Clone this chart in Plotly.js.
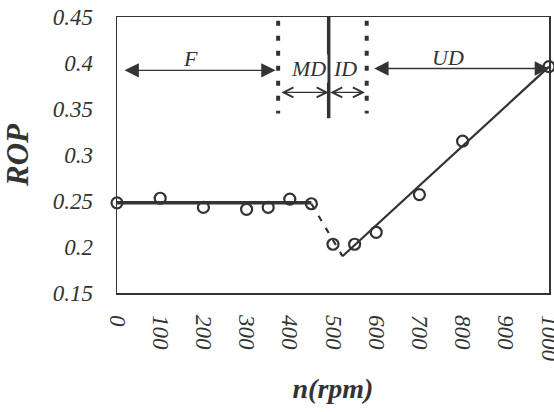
<!DOCTYPE html>
<html>
<head>
<meta charset="utf-8">
<script src="https://cdn.plot.ly/plotly-3.0.1.min.js"></script>
<style>html,body{margin:0;padding:0;background:#fff;}#chart{width:554px;height:412px;}</style>
</head>
<body>
<div id="chart"></div>
<script>
// measured points
const rpm = [0, 100, 200, 300, 350, 400, 450, 500, 550, 600, 700, 800, 1000];
const rop = [0.248, 0.253, 0.243, 0.241, 0.243, 0.252, 0.247, 0.203, 0.203, 0.216, 0.257, 0.315, 0.396];
// trend segments
const fLineX = [0, 450];
const fLineY = [0.248, 0.248];
const dropX = [450, 522];
const dropY = [0.247, 0.19];
const udLineX = [522, 1000];
const udLineY = [0.19, 0.396];
// zone boundaries (rpm)
const boundF = 373, boundMid = 490, boundU = 578;
const zoneTop = 0.45, dotBottom = 0.345, solidBottom = 0.34;
// axis ticks
const xTicks = [0, 100, 200, 300, 400, 500, 600, 700, 800, 900, 1000];
const yTicks = [0.15, 0.2, 0.25, 0.3, 0.35, 0.4, 0.45];
const yTickText = ['0.15', '0.2', '0.25', '0.3', '0.35', '0.4', '0.45'];

const ink = '#333333';
const serif = 'Liberation Serif, Times New Roman, serif';

const traces = [
  {x: fLineX, y: fLineY, mode: 'lines', line: {color: ink, width: 3.5}, hoverinfo: 'skip', cliponaxis: false},
  {x: dropX, y: dropY, mode: 'lines', line: {color: ink, width: 2.2, dash: '6px,8px'}, hoverinfo: 'skip', cliponaxis: false},
  {x: udLineX, y: udLineY, mode: 'lines', line: {color: ink, width: 2.2}, hoverinfo: 'skip', cliponaxis: false},
  {x: rpm, y: rop, mode: 'markers', cliponaxis: false,
   marker: {symbol: 'circle-open', size: 11, color: ink, line: {color: ink, width: 2.2}}}
];

const shapes = [
  {type: 'line', xref: 'x', yref: 'y', x0: boundF, x1: boundF, y0: zoneTop - 0.004, y1: dotBottom, line: {color: ink, width: 4, dash: '5px,10px'}},
  {type: 'line', xref: 'x', yref: 'y', x0: boundU, x1: boundU, y0: zoneTop - 0.004, y1: dotBottom, line: {color: ink, width: 4, dash: '5px,10px'}},
  {type: 'line', xref: 'x', yref: 'y', x0: boundMid, x1: boundMid, y0: zoneTop, y1: solidBottom, line: {color: ink, width: 3.5}}
];

const labFont = {family: serif, size: 22, color: ink, style: 'italic'};
function dblArrow(x0, x1, y, head, size, w) {
  return {xref: 'x', yref: 'y', axref: 'x', ayref: 'y', x: x1, y: y, ax: x0, ay: y,
    text: '', showarrow: true, arrowside: 'end+start', arrowhead: head, startarrowhead: head,
    arrowsize: size, startarrowsize: size, arrowwidth: w, arrowcolor: ink, standoff: 0, startstandoff: 0};
}
const annotations = [
  dblArrow(14, 367, 0.392, 2, 2.2, 1.3),
  dblArrow(592, 1000, 0.394, 2, 2.2, 1.3),
  dblArrow(boundF + 4, boundMid, 0.368, 5, 1.5, 1.3),
  dblArrow(boundMid, boundU - 4, 0.368, 5, 1.5, 1.3),
  {xref: 'x', yref: 'y', x: 169, y: 0.405, text: 'F', showarrow: false, font: labFont},
  {xref: 'x', yref: 'y', x: 766, y: 0.406, text: 'UD', showarrow: false, font: labFont},
  {xref: 'x', yref: 'y', x: 443, y: 0.394, text: 'MD', showarrow: false, font: labFont, bgcolor: '#fff'},
  {xref: 'x', yref: 'y', x: 527, y: 0.394, text: 'ID', showarrow: false, font: labFont}
];

const tickFont = {family: serif, size: 23, color: ink, style: 'italic'};
const clear = 'rgba(0,0,0,0)';
function tickOnly(base, dir, len, side) {
  return Object.assign({}, base, {showticklabels: false, ticks: dir, ticklen: len, tickwidth: 1.3, tickcolor: ink,
    showline: false, showgrid: false, zeroline: false, side: side});
}
const layout = {
  width: 554, height: 412,
  margin: {l: 117, r: 5, t: 17, b: 119},
  paper_bgcolor: '#fff', plot_bgcolor: '#fff',
  showlegend: false,
  xaxis: {range: [0, 1000], tickvals: xTicks, ticktext: xTicks.map(String), tickangle: 90,
    ticks: 'outside', ticklen: 16, tickwidth: 1, tickcolor: clear,
    showline: true, linecolor: ink, linewidth: 1.5, mirror: true, showgrid: false, zeroline: false,
    tickfont: tickFont, ticklabeloverflow: 'allow',
    title: {text: '<b>n(rpm)</b>', font: {family: serif, size: 28, color: ink, style: 'italic'}, standoff: 18}},
  xaxis2: tickOnly({range: [0, 1000], overlaying: 'x', matches: 'x', tickvals: xTicks}, 'inside', 7, 'bottom'),
  xaxis3: tickOnly({range: [0, 1000], overlaying: 'x', matches: 'x', tickvals: xTicks}, 'outside', 7, 'bottom'),
  yaxis: {range: [0.15, 0.45], tickvals: yTicks, ticktext: yTickText,
    ticks: 'outside', ticklen: 18, tickwidth: 1, tickcolor: clear,
    showline: true, linecolor: ink, linewidth: 1.5, mirror: true, showgrid: false, zeroline: false,
    tickfont: tickFont, ticklabeloverflow: 'allow',
    title: {text: '<b>ROP</b>', font: {family: serif, size: 31, color: ink, style: 'italic'}, standoff: 16}},
  yaxis2: tickOnly({range: [0.15, 0.45], overlaying: 'y', matches: 'y', tickvals: yTicks}, 'inside', 7, 'left'),
  yaxis3: tickOnly({range: [0.15, 0.45], overlaying: 'y', matches: 'y', tickvals: yTicks}, 'outside', 6, 'left'),
  shapes: shapes,
  annotations: annotations
};

Plotly.newPlot('chart', traces, layout, {staticPlot: true, displayModeBar: false});
</script>
</body>
</html>
